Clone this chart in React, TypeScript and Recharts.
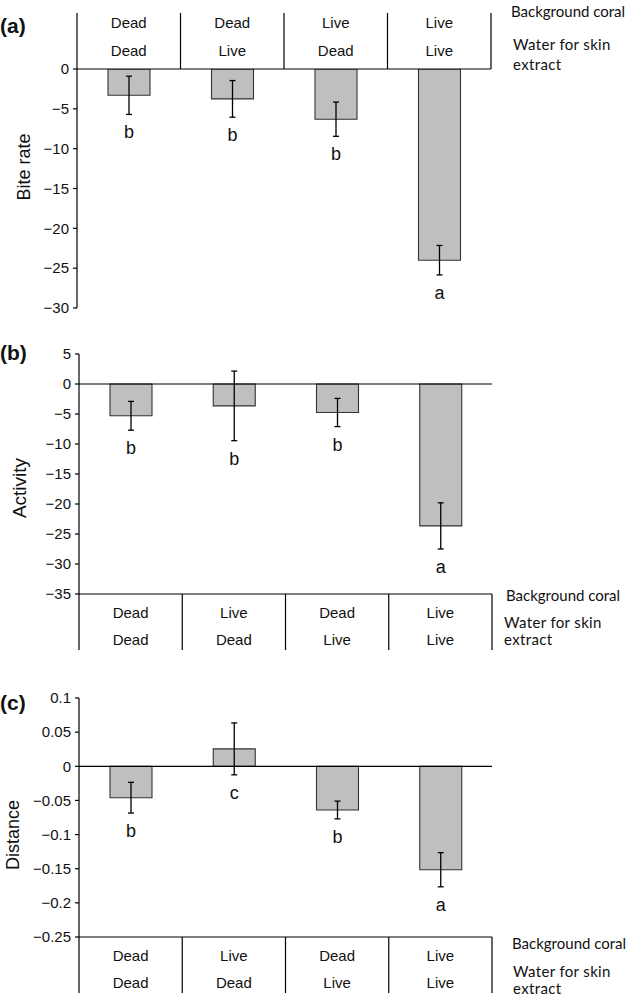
import React from 'react'
import { BarChart, Bar, XAxis, YAxis, ErrorBar, LabelList, ReferenceLine } from 'recharts'

// (a) bite rate
const biteCoral = ['Dead', 'Dead', 'Live', 'Live']
const biteWater = ['Dead', 'Live', 'Dead', 'Live']
const biteMean = [-3.3, -3.75, -6.3, -24.0]
const biteErr = [2.4, 2.3, 2.15, 1.85]
const biteLetters = ['b', 'b', 'b', 'a']
const biteTicks = [0, -5, -10, -15, -20, -25, -30]

// (b) activity
const actCoral = ['Dead', 'Live', 'Dead', 'Live']
const actWater = ['Dead', 'Dead', 'Live', 'Live']
const actMean = [-5.3, -3.65, -4.75, -23.65]
const actErr = [2.4, 5.8, 2.35, 3.85]
const actLetters = ['b', 'b', 'b', 'a']
const actTicks = [5, 0, -5, -10, -15, -20, -25, -30, -35]

// (c) distance
const distCoral = ['Dead', 'Live', 'Dead', 'Live']
const distWater = ['Dead', 'Dead', 'Live', 'Live']
const distMean = [-0.046, 0.0255, -0.064, -0.1515]
const distErr = [0.0225, 0.038, 0.013, 0.025]
const distLetters = ['b', 'c', 'b', 'a']
const distTicks = [0.1, 0.05, 0, -0.05, -0.1, -0.15, -0.2, -0.25]

const FONT = '"Liberation Sans", Arial, sans-serif'
const NOTE_FONT = 'Lato, "Open Sans", sans-serif'
const W = 631
const HEADER_H = 56

const fmt = (v: number) => String(v).replace('-', '\u2212')

interface PanelProps {
  top: number
  height: number
  marginTop: number
  marginBottom: number
  yAxisWidth: number
  marginRight: number
  header: 'top' | 'bottom'
  coral: string[]
  water: string[]
  mean: number[]
  err: number[]
  letters: string[]
  ticks: number[]
  zeroLine: boolean
}

function Panel(p: PanelProps) {
  const data = p.mean.map((v, i) => ({ name: String(i), v, e: p.err[i] }))
  const band = (W - p.yAxisWidth - p.marginRight) / data.length
  const domain = [p.ticks[p.ticks.length - 1], p.ticks[0]]
  const dir = p.header === 'top' ? -1 : 1

  const headerTick = (props: any) => {
    const { x, y, index } = props
    const r1 = p.header === 'top' ? y - 47 : y + 18
    const r2 = p.header === 'top' ? y - 19 : y + 45
    return (
      <g>
        {index === 0 && (
          <line x1={x - band / 2} x2={x - band / 2} y1={y} y2={y + dir * HEADER_H} stroke="#000" strokeWidth={1.2} />
        )}
        <line x1={x + band / 2} x2={x + band / 2} y1={y} y2={y + dir * HEADER_H} stroke="#000" strokeWidth={1.2} />
        <text x={x} y={r1} textAnchor="middle" dominantBaseline="central" fontSize={15} fontFamily={FONT} fill="#111">
          {p.coral[index]}
        </text>
        <text x={x} y={r2} textAnchor="middle" dominantBaseline="central" fontSize={15} fontFamily={FONT} fill="#111">
          {p.water[index]}
        </text>
      </g>
    )
  }

  // significance letters sit just under the lower end of each error bar
  const letterLabel = (props: any) => {
    const vb = props.viewBox || props
    const i = props.index
    const v = p.mean[i]
    const h = vb.height
    const t = Math.min(vb.y, vb.y + h)
    const b = Math.max(vb.y, vb.y + h)
    const zeroY = v < 0 ? t : b
    const ppu = Math.abs(h) / Math.abs(v)
    const lowY = zeroY - (v - p.err[i]) * ppu
    return (
      <text x={vb.x + vb.width / 2} y={lowY + 18} textAnchor="middle" dominantBaseline="central" fontSize={18} fontFamily={FONT} fill="#111">
        {p.letters[i]}
      </text>
    )
  }

  return (
    <div style={{ position: 'absolute', left: 0, top: p.top }}>
      <BarChart
        width={W}
        height={p.height}
        data={data}
        margin={{ top: p.marginTop, right: p.marginRight, left: 0, bottom: p.marginBottom }}
      >
        <XAxis
          dataKey="name"
          orientation={p.header}
          height={HEADER_H}
          axisLine={{ stroke: '#000', strokeWidth: 1.2 }}
          tickLine={false}
          tickSize={0}
          tickMargin={0}
          tick={headerTick}
          interval={0}
        />
        <YAxis
          type="number"
          domain={domain}
          ticks={p.ticks}
          interval={0}
          width={p.yAxisWidth}
          tickFormatter={fmt}
          axisLine={{ stroke: '#000', strokeWidth: 1.2 }}
          tickLine={{ stroke: '#000', strokeWidth: 1.2 }}
          tickSize={4}
          tickMargin={4}
          tick={{ fontSize: 15, fill: '#111', fontFamily: FONT }}
          allowDataOverflow
        />
        {p.zeroLine && <ReferenceLine y={0} stroke="#000" strokeWidth={1.2} />}
        <Bar dataKey="v" fill="#bfbfbf" stroke="#333" strokeWidth={1.1} barSize={42} isAnimationActive={false}>
          <ErrorBar dataKey="e" width={3} stroke="#000" strokeWidth={1.3} direction="y" />
          <LabelList dataKey="v" content={letterLabel} />
        </Bar>
      </BarChart>
    </div>
  )
}

function Note({ x, y, text, size = 15, bold = false, font = NOTE_FONT, spacing = 0 }: any) {
  return (
    <div
      style={{
        position: 'absolute',
        left: x,
        top: y,
        transform: 'translateY(-50%)',
        fontFamily: font,
        fontSize: size,
        fontWeight: bold ? 700 : 400,
        letterSpacing: spacing,
        lineHeight: 1,
        whiteSpace: 'nowrap',
        color: '#111',
      }}
    >
      {text}
    </div>
  )
}

function AxisTitle({ x, y, text, size = 18 }: any) {
  return (
    <div
      style={{
        position: 'absolute',
        left: x,
        top: y,
        transform: 'translate(-50%, -50%) rotate(-90deg)',
        fontFamily: FONT,
        fontSize: size,
        lineHeight: 1,
        whiteSpace: 'nowrap',
        color: '#111',
      }}
    >
      {text}
    </div>
  )
}

export default function App() {
  return (
    <div style={{ position: 'absolute', left: 0, top: 0, width: W, height: 997, overflow: 'hidden', background: '#fff' }}>
      <Panel
        top={0}
        height={320}
        marginTop={13}
        marginBottom={12}
        yAxisWidth={77}
        marginRight={140}
        header="top"
        coral={biteCoral}
        water={biteWater}
        mean={biteMean}
        err={biteErr}
        letters={biteLetters}
        ticks={biteTicks}
        zeroLine={false}
      />
      <Panel
        top={330}
        height={325}
        marginTop={24}
        marginBottom={5}
        yAxisWidth={79}
        marginRight={139}
        header="bottom"
        coral={actCoral}
        water={actWater}
        mean={actMean}
        err={actErr}
        letters={actLetters}
        ticks={actTicks}
        zeroLine={true}
      />
      <Panel
        top={672}
        height={325}
        marginTop={26}
        marginBottom={4}
        yAxisWidth={79}
        marginRight={139}
        header="bottom"
        coral={distCoral}
        water={distWater}
        mean={distMean}
        err={distErr}
        letters={distLetters}
        ticks={distTicks}
        zeroLine={true}
      />

      <Note x={0} y={25} text="(a)" size={21} bold font={FONT} />
      <Note x={0} y={352} text="(b)" size={21} bold font={FONT} />
      <Note x={0} y={702} text="(c)" size={21} bold font={FONT} />

      <AxisTitle x={24} y={167} text="Bite rate" />
      <AxisTitle x={19} y={488} text="Activity" size={19} />
      <AxisTitle x={13} y={835} text="Distance" />

      <Note x={511} y={11} text="Background coral" />
      <Note x={513} y={44} text="Water for skin" spacing={0.35} />
      <Note x={513} y={64} text="extract" spacing={0.35} />

      <Note x={506} y={595} text="Background coral" />
      <Note x={504} y={622} text="Water for skin" spacing={0.35} />
      <Note x={504} y={638.5} text="extract" spacing={0.35} />

      <Note x={512} y={943} text="Background coral" />
      <Note x={513} y={971} text="Water for skin" spacing={0.35} />
      <Note x={513} y={988} text="extract" spacing={0.35} />
    </div>
  )
}
